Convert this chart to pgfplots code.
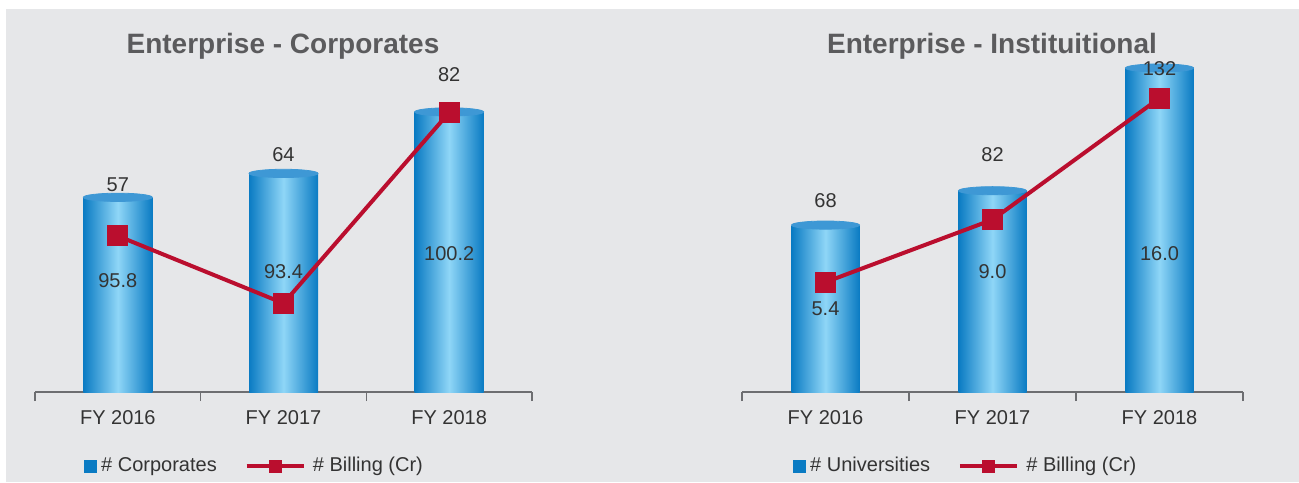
\documentclass[border=0pt]{standalone}
\usepackage{pgfplots}
\pgfplotsset{compat=1.18}
\usepackage{fontspec}
\setmainfont{Liberation Sans}

\definecolor{bg}{HTML}{E6E7E9}
\definecolor{barEdge}{HTML}{0A7BC3}
\definecolor{barMid}{HTML}{8FD6F7}
\definecolor{barTop}{HTML}{3E98D5}
\definecolor{lineRed}{HTML}{BA0E2E}
\definecolor{titleGray}{HTML}{5B5B5D}
\definecolor{txt}{HTML}{333333}
\definecolor{axisGray}{HTML}{6D6E71}

\tikzset{val/.style={font=\fontsize{10}{12}\selectfont, text=txt}}

\pgfplotsset{
  base/.style={
    scale only axis, width=#1, height=166pt,
    xmin=-0.5, xmax=2.5, clip=false,
    /pgf/number format/assume math mode=true,
  },
  bars/.style={
    base=#1,
    axis x line*=bottom, axis y line=none,
    axis line style={draw=axisGray, line width=0.75pt},
    xtick={0,1,2},
    xticklabels={FY 2016, FY 2017, FY 2018},
    major tick length=0pt,
    minor xtick={-0.5,0.5,1.5,2.5},
    minor tick length=4.5pt,
    tick align=outside,
    minor tick style={draw=axisGray, line width=0.75pt},
    xticklabel style={font=\fontsize{10}{12}\selectfont, text=txt, yshift=-5.5pt},
    ymin=0,
  },
  cyl/.style={ybar, bar width=#1, bar shift=0pt, draw=none,
    left color=barEdge, right color=barEdge, middle color=barMid},
  cyltop/.style={barTop, only marks, mark=*, mark size=#1,
    mark options={yscale=0.12}},
  lines/.style={
    base=#1, axis lines=none, xtick=\empty, ytick=\empty,
    legend style={draw=none, fill=none, inner sep=0pt, anchor=west,
      legend columns=2, font=\fontsize{10}{12}\selectfont, text=txt,
      /tikz/every even column/.append style={column sep=12pt}},
    legend cell align=left,
  },
}

\begin{document}
\begin{tikzpicture}
\fill[white] (0,0) rectangle (649.5pt,241pt);
\fill[bg] (3pt,0) rectangle (649.5pt,236.5pt);

\node[font=\fontsize{14}{16}\selectfont\bfseries, text=titleGray] at (141.5pt,218pt) {Enterprise - Corporates};
\node[font=\fontsize{14}{16}\selectfont\bfseries, text=titleGray] at (496pt,218pt) {Enterprise - Instituitional};

% ---- left: corporates ----
\begin{axis}[bars=248.5pt, ymax=97.2, at={(17.5pt,45pt)}, anchor=south west]
  \addplot[cyl=34.5pt] coordinates {(0,57)};
  \addplot[cyl=34.5pt] coordinates {(1,64)};
  \addplot[cyl=34.5pt] coordinates {(2,82)};
  \addplot[cyltop=17.25pt] coordinates {(0,57) (1,64) (2,82)};
  \coordinate (a1) at (axis cs:0,60.8);
  \coordinate (a2) at (axis cs:1,69.6);
  \coordinate (a3) at (axis cs:2,93.0);
  \coordinate (b1) at (axis cs:0,32.5);
  \coordinate (b2) at (axis cs:1,35.1);
  \coordinate (b3) at (axis cs:2,40.4);
\end{axis}
\begin{axis}[lines=248.5pt, ymin=90.24, ymax=102.07, at={(17.5pt,45pt)}, anchor=south west,
    legend style={at={(0.0986,-0.223)}}]
  \addplot[forget plot, lineRed, line width=2pt, mark=square*, mark size=4.25pt]
    coordinates {(0,95.8) (1,93.4) (2,100.2)};
  \addlegendimage{legend image code/.code={\fill[barEdge] (0pt,-3pt) rectangle (6pt,3pt);}}
  \addlegendentry{\# Corporates}
  \addlegendimage{legend image code/.code={\draw[lineRed, line width=1.7pt] (0pt,0pt) -- (28.5pt,0pt);
      \fill[lineRed] (11.25pt,-3pt) rectangle (17.25pt,3pt); \path (31pt,0pt);}}
  \addlegendentry{\# Billing (Cr)}
\end{axis}

% ---- right: institutional ----
\begin{axis}[bars=250.5pt, ymax=135.26, at={(371pt,45pt)}, anchor=south west]
  \addplot[cyl=34pt] coordinates {(0,68)};
  \addplot[cyl=34pt] coordinates {(1,82)};
  \addplot[cyl=34pt] coordinates {(2,132)};
  \addplot[cyltop=17pt] coordinates {(0,68) (1,82) (2,132)};
  \coordinate (c1) at (axis cs:0,78.0);
  \coordinate (c2) at (axis cs:1,96.6);
  \coordinate (c3) at (axis cs:2,131.6);
  \coordinate (d1) at (axis cs:0,33.8);
  \coordinate (d2) at (axis cs:1,48.9);
  \coordinate (d3) at (axis cs:2,56.2);
\end{axis}
\begin{axis}[lines=250.5pt, ymin=-0.927, ymax=18.197, at={(371pt,45pt)}, anchor=south west,
    legend style={at={(0.1018,-0.223)}}]
  \addplot[forget plot, lineRed, line width=2pt, mark=square*, mark size=4.25pt]
    coordinates {(0,5.4) (1,9.0) (2,16.0)};
  \addlegendimage{legend image code/.code={\fill[barEdge] (0pt,-3pt) rectangle (6pt,3pt);}}
  \addlegendentry{\# Universities}
  \addlegendimage{legend image code/.code={\draw[lineRed, line width=1.7pt] (0pt,0pt) -- (28.5pt,0pt);
      \fill[lineRed] (11.25pt,-3pt) rectangle (17.25pt,3pt); \path (31pt,0pt);}}
  \addlegendentry{\# Billing (Cr)}
\end{axis}

% value labels on top of everything
\node[val] at (a1) {57};
\node[val] at (a2) {64};
\node[val] at (a3) {82};
\node[val] at (b1) {95.8};
\node[val] at (b2) {93.4};
\node[val] at (b3) {100.2};
\node[val] at (c1) {68};
\node[val] at (c2) {82};
\node[val] at (c3) {132};
\node[val] at (d1) {5.4};
\node[val] at (d2) {9.0};
\node[val] at (d3) {16.0};
\end{tikzpicture}
\end{document}
